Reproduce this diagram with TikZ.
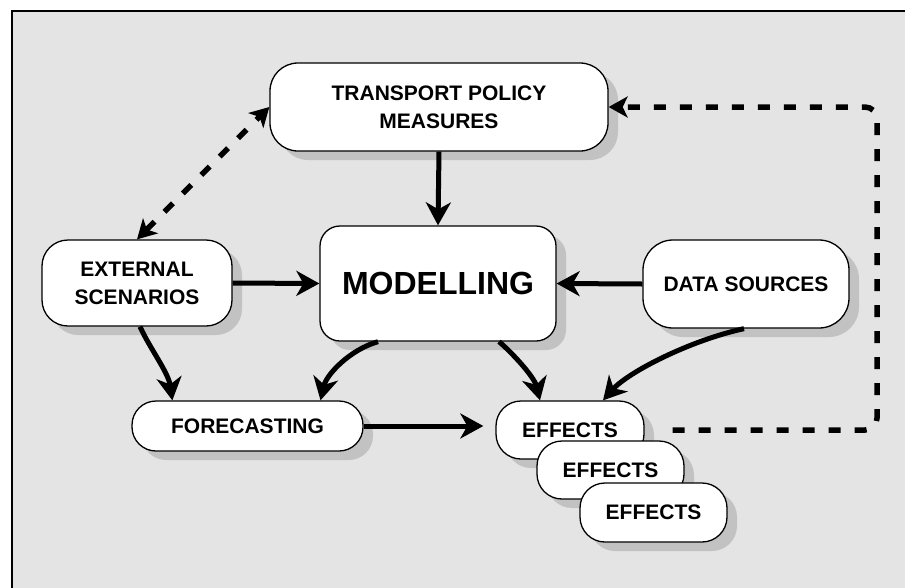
\documentclass[tikz,border=0pt]{standalone}
\usepackage{fontspec}
\setmainfont{Liberation Sans}
\usetikzlibrary{arrows.meta}
\definecolor{bggray}{RGB}{228,228,228}
\definecolor{shgray}{RGB}{194,194,194}
\begin{document}
\begin{tikzpicture}[x=1pt,y=-1pt,
  box/.style={draw=black, line width=1.3pt, fill=white, rounded corners=#1,
    align=center, inner sep=0pt,
    font=\fontsize{21}{28}\selectfont\bfseries,
    preaction={fill=shgray, transform canvas={shift={(10pt,-9pt)}}}},
  box/.default=25pt,
  bigtext/.style={font=\fontsize{32}{38}\selectfont\bfseries},
  arr/.style={line width=5pt, -{Stealth[length=23pt,width=25pt,inset=7pt]}},
  dsh/.style={line width=5.5pt, dash pattern=on 12pt off 14pt},
  dtip/.tip={Stealth[length=19pt,width=21pt,inset=5pt]}
]
\useasboundingbox (0,0) rectangle (905,587);
% frame
\fill[bggray] (12,11) rectangle (906,588);
\draw[line width=2pt] (12,590) -- (12,11) -- (906,11);

% nodes
\node[box=28pt, minimum width=338pt, minimum height=88pt] (tpm) at (439,107) {TRANSPORT POLICY\\MEASURES};
\node[box=26pt, minimum width=190pt, minimum height=86pt] (ext) at (137,283) {EXTERNAL\\SCENARIOS};
\node[box=20pt, bigtext, minimum width=236pt, minimum height=115pt] (mod) at (438,283.5) {MODELLING};
\node[box=30pt, minimum width=206pt, minimum height=88pt] (data) at (746,284) {DATA SOURCES};
\node[box=24pt, minimum width=231pt, minimum height=50pt] (fore) at (247.5,426) {FORECASTING};
\node[box=25pt, minimum width=148pt, minimum height=58pt] (eff1) at (570,430) {EFFECTS};
\node[box=25pt, minimum width=147pt, minimum height=58pt] (eff2) at (610.5,470) {EFFECTS};
\node[box=25pt, minimum width=147pt, minimum height=59pt] (eff3) at (653.5,512.5) {EFFECTS};

% helper coordinates
\coordinate (fe) at ([xshift=-12pt]eff1.west);
\coordinate (c1) at (877,430);
\coordinate (c2) at (877,107);

% solid connectors
\draw[arr] (tpm.south) -- (mod.north);
\draw[arr] (ext.east) -- (mod.west);
\draw[arr] (data.west) -- (mod.east);
\draw[arr] (fore.east) -- (fore.east -| fe);
\draw[arr] ([xshift=3pt]ext.south) .. controls +(10,22) and +(-4,-28) .. ([xshift=41pt]fore.north west);
\draw[arr] ([xshift=-60pt]mod.south) .. controls +(-28,8) and +(6,-26) .. ([xshift=73pt]fore.north);
\draw[arr] ([xshift=61pt]mod.south) .. controls +(12,10) and +(-6,-24) .. ([xshift=-30pt]eff1.north);
\draw[arr] ([xshift=-2pt]data.south) .. controls +(-55,12) and +(25,-28) .. ([xshift=33pt]eff1.north);

% dashed connectors
\draw[dsh, dtip-dtip] (ext.north) -- (tpm.west);
\draw[dsh, rounded corners=12pt, -dtip] ([xshift=28pt]eff1.east) -- (c1) -- (c2) -- (tpm.east);
\end{tikzpicture}
\end{document}
